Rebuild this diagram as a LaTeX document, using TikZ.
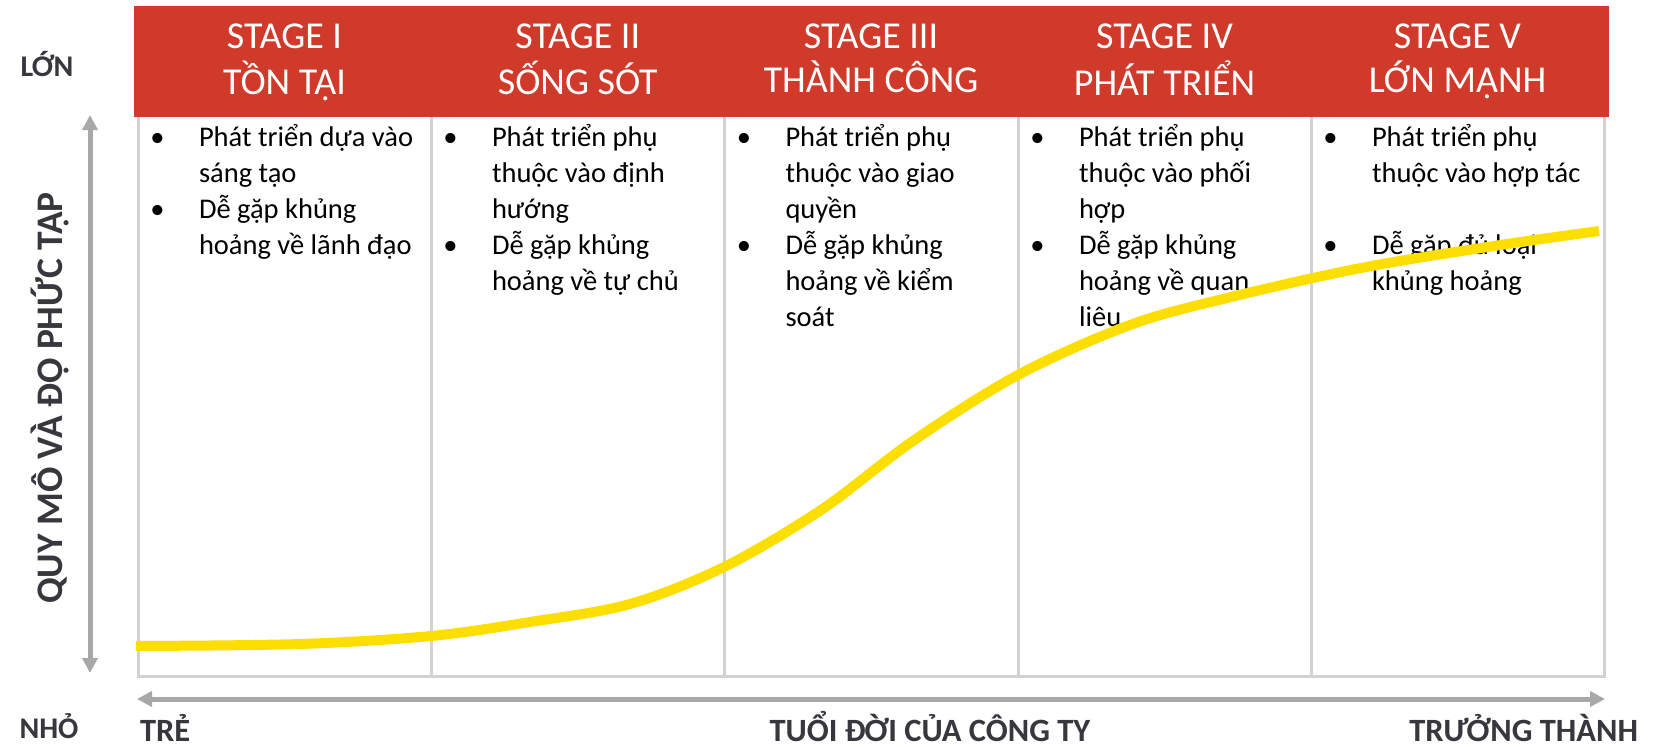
\documentclass[tikz,border=0pt]{standalone}
\usepackage{fontspec}
\setmainfont{Carlito}
\usetikzlibrary{arrows.meta}
\definecolor{hdr}{RGB}{208,58,42}
\definecolor{gridc}{RGB}{210,210,210}
\definecolor{axisc}{RGB}{168,168,168}
\definecolor{curvec}{RGB}{252,222,0}
\definecolor{labc}{RGB}{55,55,62}
\begin{document}
\begin{tikzpicture}[x=1pt,y=-1pt,
  every node/.style={inner sep=0pt, outer sep=0pt},
  gridline/.style={draw=gridc, line width=3pt},
  hdrtext/.style={text=white, font=\fontsize{38}{41.5}\selectfont, anchor=base},
  bodytext/.style={text=black, font=\fontsize{28.5}{36}\selectfont, anchor=base west},
  bul/.style={text=black, font=\fontsize{28.5}{36}\selectfont, anchor=base},
  axislab/.style={text=labc, font=\bfseries\fontsize{30}{36}\selectfont},
  botlab/.style={text=labc, font=\bfseries\fontsize{32.5}{36}\selectfont},
  axisarrow/.style={draw=axisc, line width=5pt, {Triangle[length=15pt,width=15pt]}-{Triangle[length=15pt,width=15pt]}},
  curveline/.style={draw=curvec, line width=10pt}
]
\useasboundingbox[fill=white] (0,0) rectangle (1658,747);

% header band
\fill[hdr] (134,6) rectangle (1609,117);

% grid
\draw[gridline] (138,117) -- (138,676) -- (1604,676) -- (1604,117);
\foreach \gx in {431,724.5,1018,1311}{\draw[gridline] (\gx,117) -- (\gx,676);}

% headers
\node[hdrtext] (h1) at (284.5,48.5) {\begin{tabular}[t]{@{}c@{}}STAGE I\\TỒN TẠI\end{tabular}};
\node[hdrtext] (h2) at (577.8,48.5) {\begin{tabular}[t]{@{}c@{}}STAGE II\\SỐNG SÓT\end{tabular}};
\node[hdrtext] (h3) at (871,48.5) {\begin{tabular}[t]{@{}c@{}}STAGE III\\THÀNH CÔNG\end{tabular}};
\node[hdrtext] (h4) at (1164.5,48.5) {\begin{tabular}[t]{@{}c@{}}STAGE IV\\PHÁT TRIỂN\end{tabular}};
\node[hdrtext] (h5) at (1457.5,48.5) {\begin{tabular}[t]{@{}c@{}}STAGE V\\LỚN MẠNH\end{tabular}};

% column texts
\node[bodytext] (t1) at (199,146) {\begin{tabular}[t]{@{}l@{}}Phát triển dựa vào\\sáng tạo\\Dễ gặp khủng\\hoảng về lãnh đạo\end{tabular}};
\node[bodytext] (t2) at (492,146) {\begin{tabular}[t]{@{}l@{}}Phát triển phụ\\thuộc vào định\\hướng\\Dễ gặp khủng\\hoảng về tự chủ\end{tabular}};
\node[bodytext] (t3) at (785.5,146) {\begin{tabular}[t]{@{}l@{}}Phát triển phụ\\thuộc vào giao\\quyền\\Dễ gặp khủng\\hoảng về kiểm\\soát\end{tabular}};
\node[bodytext] (t4) at (1079,146) {\begin{tabular}[t]{@{}l@{}}Phát triển phụ\\thuộc vào phối\\hợp\\Dễ gặp khủng\\hoảng về quan\\liêu\end{tabular}};
\node[bodytext] (t5) at (1372,146) {\begin{tabular}[t]{@{}l@{}}Phát triển phụ\\thuộc vào hợp tác\\\mbox{}\\Dễ gặp đủ loại\\khủng hoảng\end{tabular}};

% bullets
\node[bul] (b11) at (157.5,146) {•};
\node[bul] (b12) at (157.5,218) {•};
\node[bul] (b21) at (450.5,146) {•};
\node[bul] (b22) at (450.5,254) {•};
\node[bul] (b31) at (744,146) {•};
\node[bul] (b32) at (744,254) {•};
\node[bul] (b41) at (1037.5,146) {•};
\node[bul] (b42) at (1037.5,254) {•};
\node[bul] (b51) at (1330.5,146) {•};
\node[bul] (b52) at (1330.5,254) {•};

% axes
\coordinate (vtop) at (90,115);
\coordinate (vbot) at (90,673);
\coordinate (hleft) at (137,699);
\coordinate (hright) at (1605,699);
\draw[axisarrow] (vtop) -- (vbot);
\draw[axisarrow] (hleft) -- (hright);

% axis labels
\node[axislab, anchor=base] (lon) at (47,76) {LỚN};
\node[axislab, anchor=base] (nho) at (49,738) {NHỎ};
\node[botlab, anchor=base west] (tre) at (140,741) {TRẺ};
\node[botlab, anchor=base] (tuoi) at (930,741) {TUỔI ĐỜI CỦA CÔNG TY};
\node[botlab, anchor=base east] (tt) at (1638,741) {TRƯỞNG THÀNH};
\node[text=labc, font=\bfseries\fontsize{37.5}{42}\selectfont, rotate=90, anchor=base] (ylab) at (62,398) {QUY MÔ VÀ ĐỘ PHỨC TẠP};

% growth curve
\draw[curveline] plot[smooth, tension=0.55] coordinates {(136,646) (300,644) (431,636) (530,622) (630,604) (724,567) (821,510) (913,441) (1018,375) (1130,325) (1227,298) (1361,268) (1494,246) (1599,231)};
\end{tikzpicture}
\end{document}
